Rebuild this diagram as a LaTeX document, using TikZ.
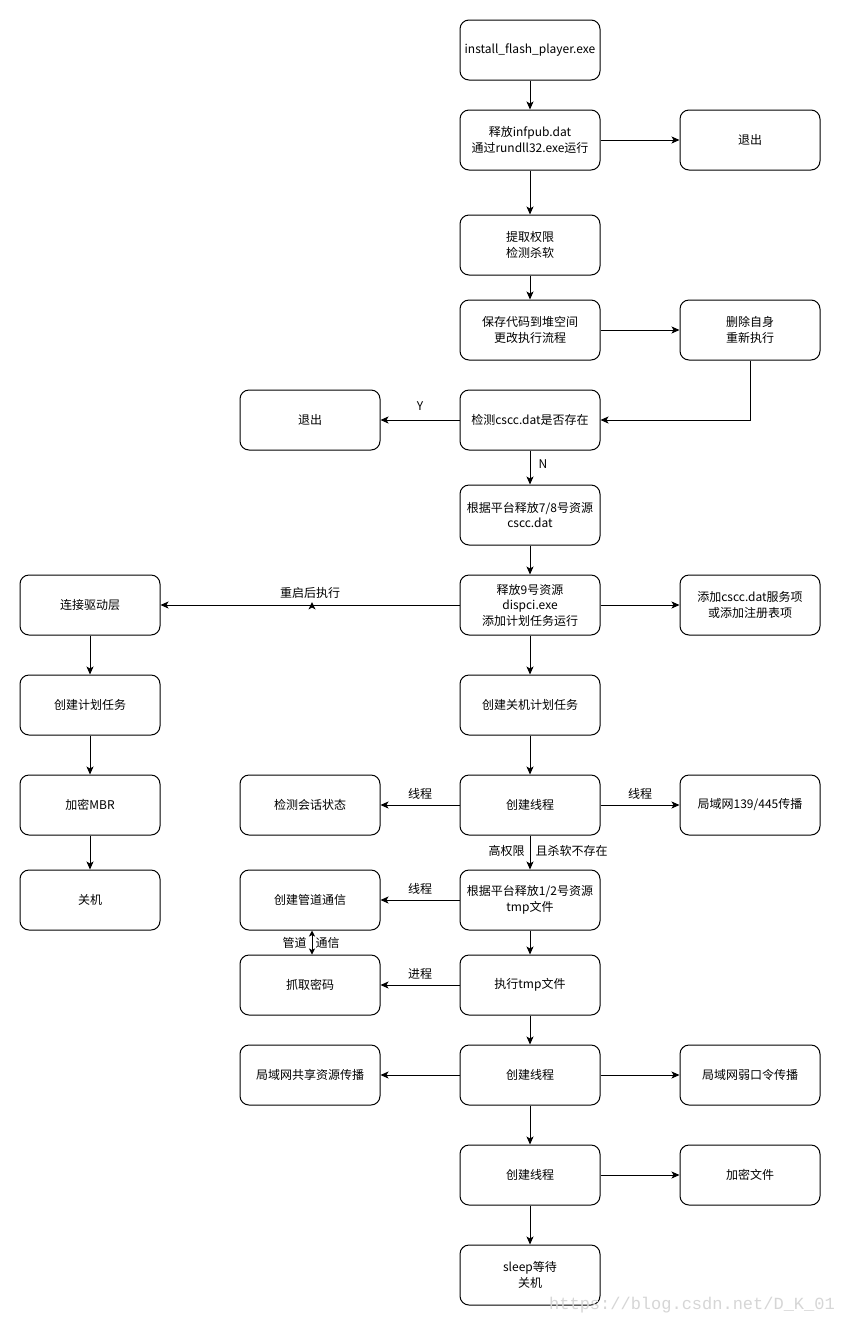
\documentclass[tikz,border=0pt]{standalone}
\usepackage{fontspec}
\setmainfont{Noto Sans CJK SC}
\newfontfamily\wmfont{Liberation Mono}
\usetikzlibrary{arrows.meta}
\begin{document}
\begin{tikzpicture}[x=1pt,y=-1pt,
  box/.style={draw=black,line width=1pt,rounded corners=9pt,minimum width=140pt,minimum height=60pt,inner sep=0pt,align=center,font=\fontsize{12}{15.5}\selectfont,fill=white},
  arr/.style={draw=black,line width=1pt,-{Stealth[length=8pt,width=7pt,inset=2pt]}},
  lbl/.style={font=\fontsize{12}{14}\selectfont,inner sep=0pt}]
\useasboundingbox[fill=white] (0,0) rectangle (841,1326);
% main column
\node[box] (n1) at (530,50) {install\_flash\_player.exe};
\node[box] (n2) at (530,140) {释放infpub.dat\\通过rundll32.exe运行};
\node[box] (e1) at (750,140) {退出};
\node[box] (n3) at (530,245) {提取权限\\检测杀软};
\node[box] (n4) at (530,330) {保存代码到堆空间\\更改执行流程};
\node[box] (d1) at (750,330) {删除自身\\重新执行};
\node[box] (n5) at (530,420) {检测cscc.dat是否存在};
\node[box] (e2) at (310,420) {退出};
\node[box] (n6) at (530,515) {根据平台释放7/8号资源\\cscc.dat};
\node[box] (n7) at (530,605) {释放9号资源\\dispci.exe\\添加计划任务运行};
\node[box] (r7) at (750,605) {添加cscc.dat服务项\\或添加注册表项};
\node[box] (l1) at (90,605) {连接驱动层};
\node[box] (l2) at (90,705) {创建计划任务};
\node[box] (l3) at (90,805) {加密MBR};
\node[box] (l4) at (90,900) {关机};
\node[box] (n8) at (530,705) {创建关机计划任务};
\node[box] (n9) at (530,805) {创建线程};
\node[box] (s9) at (310,805) {检测会话状态};
\node[box] (r9) at (750,805) {局域网139/445传播};
\node[box] (n10) at (530,900) {根据平台释放1/2号资源\\tmp文件};
\node[box] (p10) at (310,900) {创建管道通信};
\node[box] (n11) at (530,985) {执行tmp文件};
\node[box] (p11) at (310,985) {抓取密码};
\node[box] (n12) at (530,1075) {创建线程};
\node[box] (s12) at (310,1075) {局域网共享资源传播};
\node[box] (r12) at (750,1075) {局域网弱口令传播};
\node[box] (n13) at (530,1175) {创建线程};
\node[box] (r13) at (750,1175) {加密文件};
\node[box] (n14) at (530,1275) {sleep等待\\关机};
% connectors
\draw[arr] (n1) -- (n2);
\draw[arr] (n2) -- (e1);
\draw[arr] (n2.south) -- (n3.north);
\draw[arr] (n3) -- (n4);
\draw[arr] (n4) -- (d1);
\draw[arr] (d1.south) |- (n5.east);
\draw[arr] (n5) -- node[lbl,pos=0.5,above=9pt] {Y} (e2);
\draw[arr] (n5) -- node[lbl,right=8pt,pos=0.4] {N} (n6);
\draw[arr] (n6) -- (n7);
\draw[arr] (n7) -- (r7);
\draw[arr] (n7) -- node[lbl,pos=0.5,above=6pt] (rl) {重启后执行} (l1);
\fill (312,602) -- (308.5,609.5) -- (312,607.5) -- (315.5,609.5) -- cycle;
\draw[arr] (l1) -- (l2);
\draw[arr] (l2) -- (l3);
\draw[arr] (l3) -- (l4);
\draw[arr] (n7) -- (n8);
\draw[arr] (n8) -- (n9);
\draw[arr] (n9) -- node[lbl,pos=0.5,above=5pt] {线程} (s9);
\draw[arr] (n9) -- node[lbl,pos=0.5,above=5pt] {线程} (r9);
\draw[arr] (n9) -- node[lbl,pos=0.45,left=5pt] {高权限} node[lbl,pos=0.45,right=5pt] {且杀软不存在} (n10);
\draw[arr] (n10) -- node[lbl,pos=0.5,above=5pt] {线程} (p10);
\draw[line width=1pt,{Stealth[length=6pt,width=6pt,inset=1.5pt]}-{Stealth[length=6pt,width=6pt,inset=1.5pt]}] ([xshift=2pt]p10.south) -- node[lbl,pos=0.5,left=5pt] {管道} node[lbl,pos=0.5,right=3pt] {通信} ([xshift=2pt]p11.north);
\draw[arr] (n10) -- (n11);
\draw[arr] (n11) -- node[lbl,pos=0.5,above=5pt] {进程} (p11);
\draw[arr] (n11) -- (n12);
\draw[arr] (n12) -- (s12);
\draw[arr] (n12) -- (r12);
\draw[arr] (n12) -- (n13);
\draw[arr] (n13) -- (r13);
\draw[arr] (n13) -- (n14);
% watermark
\node[anchor=east,inner sep=0pt,text=black!16,font=\wmfont\fontsize{17}{17}\selectfont] (wm) at (835,1305) {https://blog.csdn.net/D\_K\_01};
\end{tikzpicture}
\end{document}
